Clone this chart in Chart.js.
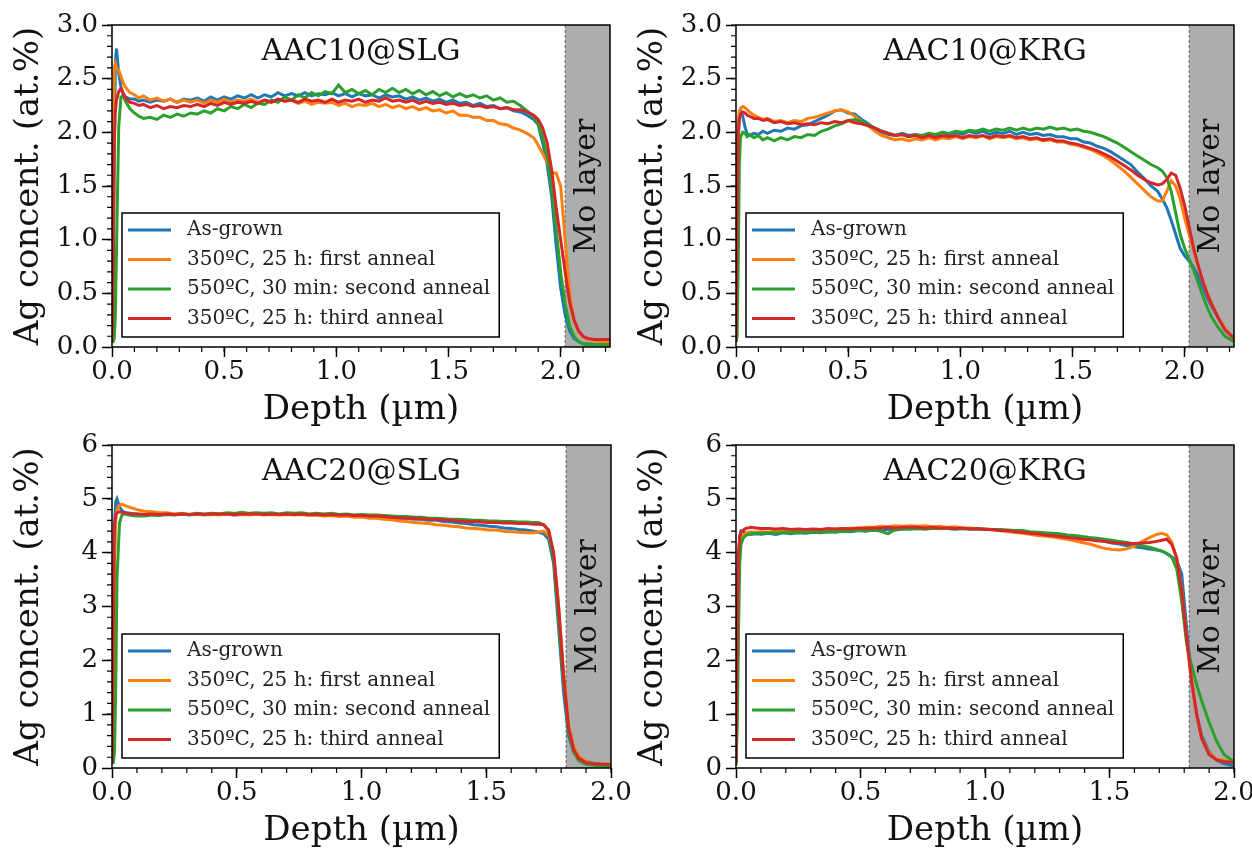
<!DOCTYPE html>
<html>
<head>
<meta charset="utf-8">
<title>Ag depth profiles</title>
<script src="https://cdn.jsdelivr.net/npm/chart.js@4.4.0/dist/chart.umd.min.js"></script>
<style>
  html, body { margin: 0; padding: 0; background: #fff; overflow: hidden; }
  body { width: 1252px; height: 853px; position: relative; }
  canvas { position: absolute; }
</style>
</head>
<body>
<script>
const FONT = '"DejaVu Serif", "Liberation Serif", serif';

// --- SERIES ---
const seriesLabels = ['As-grown', '350ºC, 25 h: first anneal', '550ºC, 30 min: second anneal', '350ºC, 25 h: third anneal'];
const seriesColors = ['#1f77b4', '#ff7f0e', '#2ca02c', '#d62728'];

// --- TICKS ---
const xTicks = [0, 0.5, 1.0, 1.5, 2.0];
const yTicks10 = [0, 0.5, 1.0, 1.5, 2.0, 2.5, 3.0];
const yTicks20 = [0, 1, 2, 3, 4, 5, 6];

// --- DEPTH GRIDS (µm) ---
const depth10 = [
  0, 0.005, 0.01, 0.015, 0.02, 0.03, 0.04, 0.05, 0.06, 0.08,
  0.10, 0.12, 0.14, 0.17, 0.20, 0.23, 0.26, 0.29, 0.32, 0.35,
  0.38, 0.41, 0.44, 0.47, 0.50, 0.53, 0.56, 0.59, 0.62, 0.65,
  0.68, 0.71, 0.74, 0.77, 0.80, 0.83, 0.86, 0.89, 0.92, 0.95,
  0.98, 1.01, 1.04, 1.07, 1.10, 1.13, 1.16, 1.19, 1.22, 1.25,
  1.28, 1.31, 1.34, 1.37, 1.40, 1.43, 1.46, 1.49, 1.52, 1.55,
  1.58, 1.61, 1.64, 1.67, 1.70, 1.73, 1.76, 1.79, 1.82, 1.85,
  1.88, 1.90, 1.92, 1.94, 1.96, 1.98, 2.00, 2.02, 2.04, 2.06,
  2.08, 2.10, 2.12, 2.15, 2.18, 2.22
];
const depth20 = [
  0, 0.005, 0.01, 0.015, 0.02, 0.03, 0.04, 0.05, 0.06, 0.08,
  0.10, 0.13, 0.16, 0.19, 0.22, 0.25, 0.28, 0.31, 0.34, 0.37,
  0.40, 0.43, 0.46, 0.49, 0.52, 0.55, 0.58, 0.61, 0.64, 0.67,
  0.70, 0.73, 0.76, 0.79, 0.82, 0.85, 0.88, 0.91, 0.94, 0.97,
  1.00, 1.03, 1.06, 1.09, 1.12, 1.15, 1.18, 1.21, 1.24, 1.27,
  1.30, 1.33, 1.36, 1.39, 1.42, 1.45, 1.48, 1.51, 1.54, 1.57,
  1.60, 1.63, 1.66, 1.69, 1.71, 1.73, 1.75, 1.77, 1.79, 1.81,
  1.83, 1.85, 1.87, 1.90, 1.93, 1.96, 2.00
];

// --- AAC10@SLG (at.%) ---
const slg10AsGrown = [
  0.05, 0.30, 1.80, 2.65, 2.78, 2.55, 2.42, 2.36, 2.33, 2.31,
  2.31, 2.29, 2.30, 2.28, 2.30, 2.29, 2.31, 2.28, 2.31, 2.30,
  2.32, 2.29, 2.33, 2.30, 2.33, 2.31, 2.34, 2.32, 2.35, 2.32,
  2.35, 2.33, 2.37, 2.34, 2.36, 2.34, 2.37, 2.34, 2.36, 2.35,
  2.37, 2.34, 2.36, 2.33, 2.36, 2.34, 2.35, 2.32, 2.35, 2.33,
  2.34, 2.31, 2.33, 2.30, 2.32, 2.29, 2.31, 2.28, 2.30, 2.27,
  2.28, 2.25, 2.27, 2.24, 2.25, 2.22, 2.23, 2.20, 2.19, 2.16,
  2.12, 2.07, 1.90, 1.70, 1.40, 0.95, 0.55, 0.30, 0.15, 0.08,
  0.05, 0.03, 0.03, 0.02, 0.02, 0.02
];
const slg10First = [
  0.05, 1.50, 2.60, 2.64, 2.60, 2.58, 2.52, 2.46, 2.42, 2.37,
  2.35, 2.32, 2.34, 2.30, 2.32, 2.29, 2.31, 2.28, 2.30, 2.28,
  2.30, 2.27, 2.30, 2.28, 2.31, 2.28, 2.30, 2.29, 2.31, 2.28,
  2.30, 2.28, 2.31, 2.29, 2.30, 2.27, 2.29, 2.26, 2.28, 2.27,
  2.28, 2.25, 2.27, 2.24, 2.26, 2.25, 2.27, 2.24, 2.26, 2.23,
  2.25, 2.22, 2.24, 2.21, 2.23, 2.20, 2.21, 2.18, 2.20, 2.16,
  2.16, 2.14, 2.14, 2.11, 2.11, 2.08, 2.07, 2.04, 2.02, 1.99,
  1.95, 1.88, 1.80, 1.72, 1.62, 1.62, 1.50, 1.00, 0.50, 0.25,
  0.14, 0.09, 0.07, 0.06, 0.05, 0.05
];
const slg10Second = [
  0.05, 0.05, 0.08, 0.30, 0.90, 2.05, 2.33, 2.34, 2.29, 2.22,
  2.18, 2.15, 2.13, 2.14, 2.12, 2.16, 2.14, 2.17, 2.15, 2.18,
  2.17, 2.20, 2.18, 2.22, 2.20, 2.24, 2.22, 2.26, 2.23, 2.27,
  2.26, 2.30, 2.28, 2.33, 2.30, 2.35, 2.32, 2.37, 2.34, 2.38,
  2.36, 2.44, 2.37, 2.40, 2.36, 2.39, 2.35, 2.40, 2.37, 2.41,
  2.37, 2.40, 2.36, 2.39, 2.35, 2.38, 2.34, 2.37, 2.33, 2.36,
  2.33, 2.35, 2.32, 2.34, 2.30, 2.32, 2.28, 2.29, 2.25, 2.20,
  2.15, 2.08, 1.95, 1.78, 1.50, 1.10, 0.70, 0.40, 0.20, 0.10,
  0.05, 0.03, 0.02, 0.02, 0.02, 0.02
];
const slg10Third = [
  0.05, 0.80, 1.90, 2.20, 2.30, 2.38, 2.41, 2.36, 2.32, 2.28,
  2.27, 2.25, 2.26, 2.23, 2.25, 2.22, 2.24, 2.23, 2.25, 2.24,
  2.26, 2.24, 2.27, 2.25, 2.28, 2.26, 2.28, 2.27, 2.29, 2.27,
  2.30, 2.28, 2.31, 2.29, 2.30, 2.28, 2.31, 2.29, 2.30, 2.28,
  2.31, 2.28, 2.30, 2.29, 2.31, 2.28, 2.30, 2.29, 2.32, 2.29,
  2.30, 2.28, 2.30, 2.27, 2.29, 2.27, 2.28, 2.26, 2.27, 2.25,
  2.26, 2.24, 2.25, 2.23, 2.24, 2.22, 2.23, 2.21, 2.21, 2.19,
  2.16, 2.12, 2.04, 1.90, 1.65, 1.30, 1.00, 0.70, 0.42, 0.25,
  0.15, 0.10, 0.08, 0.07, 0.07, 0.07
];

// --- AAC10@KRG (at.%) ---
const krg10AsGrown = [
  0.05, 1.00, 1.90, 2.15, 2.20, 2.15, 2.05, 1.98, 1.97, 1.99,
  1.98, 2.01, 1.99, 2.02, 2.01, 2.04, 2.03, 2.06, 2.07, 2.10,
  2.13, 2.16, 2.20, 2.21, 2.18, 2.17, 2.12, 2.08, 2.03, 2.00,
  1.98, 1.97, 1.99, 1.97, 1.98, 1.96, 1.99, 1.97, 2.00, 1.98,
  2.00, 1.98, 2.01, 1.99, 2.01, 1.98, 2.00, 1.99, 2.01, 1.98,
  2.00, 1.98, 1.99, 1.97, 1.98, 1.96, 1.96, 1.94, 1.94, 1.91,
  1.90, 1.87, 1.85, 1.82, 1.78, 1.74, 1.70, 1.63, 1.57, 1.50,
  1.45, 1.38, 1.30, 1.18, 1.05, 0.92, 0.85, 0.80, 0.74, 0.66,
  0.56, 0.46, 0.38, 0.27, 0.16, 0.08
];
const krg10First = [
  0.05, 1.50, 2.10, 2.20, 2.22, 2.24, 2.23, 2.21, 2.19, 2.16,
  2.14, 2.12, 2.13, 2.10, 2.11, 2.09, 2.11, 2.10, 2.13, 2.14,
  2.16, 2.18, 2.20, 2.21, 2.19, 2.15, 2.10, 2.06, 2.01, 1.97,
  1.95, 1.93, 1.94, 1.92, 1.94, 1.93, 1.95, 1.93, 1.95, 1.94,
  1.96, 1.94, 1.96, 1.95, 1.97, 1.94, 1.96, 1.95, 1.96, 1.94,
  1.95, 1.93, 1.94, 1.92, 1.93, 1.91, 1.91, 1.89, 1.88, 1.86,
  1.84, 1.81, 1.78, 1.74, 1.69, 1.64, 1.58, 1.52, 1.46, 1.40,
  1.36, 1.36, 1.45, 1.55, 1.50, 1.38, 1.20, 1.05, 0.90, 0.76,
  0.62, 0.50, 0.40, 0.28, 0.17, 0.08
];
const krg10Second = [
  0.05, 0.10, 0.80, 1.70, 1.95, 2.00, 1.99, 1.96, 1.98, 1.95,
  1.97, 1.93, 1.95, 1.92, 1.95, 1.93, 1.96, 1.95, 1.98, 1.97,
  2.01, 2.03, 2.06, 2.08, 2.11, 2.12, 2.10, 2.07, 2.04, 2.01,
  1.99, 1.97, 1.98, 1.96, 1.98, 1.97, 1.99, 1.98, 2.00, 1.99,
  2.01, 2.00, 2.02, 2.01, 2.03, 2.01, 2.03, 2.02, 2.04, 2.02,
  2.04, 2.02, 2.04, 2.03, 2.05, 2.03, 2.04, 2.02, 2.03, 2.01,
  2.00, 1.98, 1.96, 1.93, 1.90, 1.86, 1.82, 1.78, 1.74, 1.70,
  1.67, 1.64, 1.58, 1.45, 1.25, 1.05, 0.92, 0.82, 0.72, 0.60,
  0.48, 0.37, 0.28, 0.18, 0.10, 0.05
];
const krg10Third = [
  0.05, 1.20, 2.00, 2.12, 2.17, 2.19, 2.18, 2.16, 2.15, 2.13,
  2.13, 2.11, 2.12, 2.09, 2.10, 2.08, 2.09, 2.07, 2.08, 2.07,
  2.09, 2.08, 2.10, 2.09, 2.11, 2.09, 2.08, 2.06, 2.04, 2.01,
  1.99, 1.97, 1.98, 1.96, 1.97, 1.95, 1.97, 1.95, 1.97, 1.96,
  1.97, 1.95, 1.97, 1.96, 1.97, 1.95, 1.97, 1.96, 1.97, 1.95,
  1.96, 1.94, 1.95, 1.93, 1.94, 1.92, 1.92, 1.90, 1.89, 1.87,
  1.85, 1.83, 1.80, 1.77, 1.73, 1.69, 1.65, 1.60, 1.56, 1.53,
  1.51, 1.52, 1.56, 1.62, 1.60, 1.48, 1.32, 1.12, 0.92, 0.76,
  0.62, 0.50, 0.40, 0.27, 0.16, 0.08
];

// --- AAC20@SLG (at.%) ---
const slg20AsGrown = [
  0.10, 2.00, 4.50, 4.95, 5.00, 4.85, 4.78, 4.75, 4.74, 4.73, 4.72,
  4.71, 4.72, 4.70, 4.72, 4.71, 4.72, 4.70, 4.72, 4.71, 4.72,
  4.71, 4.72, 4.70, 4.72, 4.71, 4.73, 4.71, 4.72, 4.71, 4.72,
  4.71, 4.72, 4.70, 4.71, 4.70, 4.71, 4.69, 4.70, 4.69, 4.70,
  4.68, 4.68, 4.66, 4.66, 4.64, 4.64, 4.62, 4.62, 4.60, 4.60,
  4.58, 4.57, 4.55, 4.54, 4.52, 4.51, 4.49, 4.48, 4.46, 4.45, 4.43, 4.42, 4.40,
  4.38, 4.35, 4.25, 3.80, 2.60, 1.40, 0.60, 0.30, 0.18, 0.12, 0.09, 0.07, 0.05
];
const slg20First = [
  0.10, 1.00, 3.80, 4.60, 4.80, 4.88, 4.90, 4.88, 4.86, 4.83, 4.80,
  4.77, 4.76, 4.74, 4.74, 4.72, 4.73, 4.71, 4.72, 4.70, 4.71,
  4.70, 4.72, 4.70, 4.71, 4.70, 4.72, 4.70, 4.71, 4.70, 4.71,
  4.70, 4.71, 4.69, 4.70, 4.68, 4.69, 4.67, 4.68, 4.66, 4.66,
  4.64, 4.64, 4.62, 4.61, 4.59, 4.58, 4.56, 4.55, 4.54, 4.52,
  4.51, 4.49, 4.48, 4.46, 4.45, 4.44, 4.42, 4.42, 4.40, 4.39, 4.38, 4.37, 4.37,
  4.38, 4.40, 4.32, 4.00, 3.00, 1.80, 0.80, 0.40, 0.22, 0.12, 0.08, 0.06, 0.05
];
const slg20Second = [
  0.10, 0.10, 0.30, 1.50, 3.50, 4.55, 4.70, 4.72, 4.71, 4.69, 4.68,
  4.68, 4.70, 4.69, 4.71, 4.70, 4.72, 4.71, 4.73, 4.72, 4.73,
  4.72, 4.74, 4.73, 4.75, 4.73, 4.74, 4.73, 4.74, 4.72, 4.74,
  4.73, 4.74, 4.72, 4.73, 4.72, 4.73, 4.71, 4.72, 4.70, 4.71,
  4.70, 4.70, 4.69, 4.68, 4.67, 4.67, 4.66, 4.66, 4.64, 4.64,
  4.63, 4.62, 4.62, 4.61, 4.60, 4.60, 4.59, 4.59, 4.58, 4.58, 4.57, 4.57, 4.56,
  4.56, 4.52, 4.40, 3.90, 2.80, 1.60, 0.70, 0.30, 0.14, 0.07, 0.05, 0.04, 0.03
];
const slg20Third = [
  0.10, 2.50, 4.50, 4.70, 4.74, 4.76, 4.75, 4.74, 4.73, 4.72, 4.72,
  4.71, 4.72, 4.71, 4.72, 4.71, 4.72, 4.71, 4.72, 4.71, 4.72,
  4.72, 4.72, 4.71, 4.72, 4.72, 4.72, 4.71, 4.72, 4.71, 4.72,
  4.71, 4.72, 4.71, 4.71, 4.70, 4.71, 4.70, 4.70, 4.69, 4.69,
  4.68, 4.68, 4.67, 4.66, 4.65, 4.64, 4.64, 4.63, 4.62, 4.62,
  4.61, 4.60, 4.59, 4.58, 4.58, 4.57, 4.56, 4.56, 4.55, 4.55, 4.54, 4.54, 4.53,
  4.53, 4.52, 4.42, 4.00, 3.00, 1.70, 0.75, 0.35, 0.18, 0.10, 0.08, 0.07, 0.07
];

// --- AAC20@KRG (at.%) ---
const krg20AsGrown = [
  0.10, 1.50, 3.80, 4.30, 4.40, 4.38, 4.36, 4.35, 4.34, 4.35, 4.34,
  4.36, 4.34, 4.37, 4.35, 4.37, 4.36, 4.38, 4.37, 4.39, 4.38,
  4.40, 4.39, 4.41, 4.40, 4.42, 4.41, 4.43, 4.42, 4.44, 4.44,
  4.45, 4.44, 4.46, 4.45, 4.45, 4.44, 4.45, 4.44, 4.44, 4.43,
  4.43, 4.42, 4.41, 4.40, 4.39, 4.38, 4.37, 4.35, 4.34, 4.32,
  4.31, 4.29, 4.27, 4.25, 4.23, 4.21, 4.18, 4.16, 4.13, 4.11, 4.09, 4.07, 4.05,
  4.03, 3.98, 3.92, 3.85, 3.60, 2.60, 1.60, 1.00, 0.60, 0.30, 0.15, 0.08, 0.04
];
const krg20First = [
  0.10, 1.20, 3.50, 4.20, 4.30, 4.33, 4.36, 4.38, 4.39, 4.38, 4.39,
  4.38, 4.40, 4.39, 4.41, 4.40, 4.42, 4.41, 4.43, 4.42, 4.44,
  4.44, 4.46, 4.45, 4.47, 4.47, 4.49, 4.48, 4.50, 4.49, 4.50,
  4.49, 4.50, 4.48, 4.49, 4.47, 4.48, 4.46, 4.46, 4.44, 4.44,
  4.42, 4.41, 4.39, 4.38, 4.36, 4.34, 4.32, 4.31, 4.29, 4.27,
  4.25, 4.22, 4.19, 4.16, 4.12, 4.08, 4.06, 4.05, 4.07, 4.12, 4.20, 4.28, 4.34,
  4.36, 4.33, 4.20, 3.90, 3.30, 2.40, 1.60, 1.00, 0.55, 0.28, 0.17, 0.14, 0.12
];
const krg20Second = [
  0.05, 0.80, 2.50, 3.80, 4.15, 4.28, 4.32, 4.34, 4.35, 4.36, 4.36,
  4.37, 4.36, 4.38, 4.37, 4.38, 4.37, 4.39, 4.38, 4.39, 4.39,
  4.40, 4.40, 4.41, 4.41, 4.42, 4.40, 4.35, 4.43, 4.44, 4.44,
  4.45, 4.44, 4.45, 4.45, 4.45, 4.44, 4.45, 4.44, 4.44, 4.44,
  4.43, 4.43, 4.42, 4.41, 4.41, 4.39, 4.38, 4.37, 4.36, 4.35,
  4.33, 4.32, 4.30, 4.28, 4.27, 4.25, 4.23, 4.21, 4.19, 4.16, 4.13, 4.10, 4.06,
  4.03, 3.99, 3.92, 3.70, 3.10, 2.30, 1.90, 1.55, 1.25, 0.85, 0.50, 0.25, 0.12
];
const krg20Third = [
  0.10, 2.50, 4.00, 4.30, 4.38, 4.42, 4.45, 4.46, 4.47, 4.46, 4.45,
  4.45, 4.44, 4.45, 4.43, 4.44, 4.43, 4.44, 4.43, 4.45, 4.44,
  4.45, 4.44, 4.46, 4.45, 4.46, 4.46, 4.47, 4.46, 4.47, 4.47,
  4.47, 4.46, 4.47, 4.46, 4.46, 4.45, 4.46, 4.44, 4.45, 4.43,
  4.43, 4.41, 4.41, 4.39, 4.38, 4.36, 4.35, 4.33, 4.32, 4.30,
  4.28, 4.27, 4.25, 4.24, 4.22, 4.21, 4.19, 4.18, 4.17, 4.17, 4.18, 4.19, 4.21,
  4.23, 4.25, 4.15, 3.90, 3.30, 2.40, 1.60, 1.00, 0.55, 0.25, 0.15, 0.12, 0.10
];

// --- PANEL LAYOUT ---
// rect = plot area in page pixels [left, top, right, bottom]
const panels = [
  { title: 'AAC10@SLG', depth: depth10, values: [slg10AsGrown, slg10First, slg10Second, slg10Third],
    xMax: 2.22, yMax: 3, yTicks: yTicks10, yMinor: 0.1, yDigits: 1, moStart: 2.02, rect: [112, 25, 610, 347] },
  { title: 'AAC10@KRG', depth: depth10, values: [krg10AsGrown, krg10First, krg10Second, krg10Third],
    xMax: 2.22, yMax: 3, yTicks: yTicks10, yMinor: 0.1, yDigits: 1, moStart: 2.02, rect: [736, 25, 1234, 347] },
  { title: 'AAC20@SLG', depth: depth20, values: [slg20AsGrown, slg20First, slg20Second, slg20Third],
    xMax: 2.0, yMax: 6, yTicks: yTicks20, yMinor: 0.2, yDigits: 0, moStart: 1.82, rect: [112, 445, 611, 768] },
  { title: 'AAC20@KRG', depth: depth20, values: [krg20AsGrown, krg20First, krg20Second, krg20Third],
    xMax: 2.0, yMax: 6, yTicks: yTicks20, yMinor: 0.2, yDigits: 0, moStart: 1.82, rect: [736, 445, 1234, 768] }
];

const Y_AXIS_W = 111, X_AXIS_H = 80, PAD_TOP = 25, PAD_RIGHT = 26;

// Mo back-contact shading, sample name, boxed legend, frame and minor ticks
const decor = {
  id: 'decor',
  beforeDatasetsDraw(chart, args, o) {
    const { ctx, chartArea: a, scales: { x } } = chart;
    const x0 = x.getPixelForValue(o.moStart);
    ctx.save();
    ctx.fillStyle = '#adadad';
    ctx.fillRect(x0, a.top, a.right - x0, a.bottom - a.top);
    ctx.strokeStyle = '#444';
    ctx.lineWidth = 0.8;
    ctx.setLineDash([3, 2]);
    ctx.beginPath();
    ctx.moveTo(x0, a.top);
    ctx.lineTo(x0, a.bottom);
    ctx.stroke();
    ctx.restore();
  },
  afterDatasetsDraw(chart, args, o) {
    const { ctx, chartArea: a, scales: { x } } = chart;
    const x0 = x.getPixelForValue(o.moStart);

    ctx.save();
    ctx.translate((x0 + a.right) / 2, (a.top + a.bottom) / 2);
    ctx.rotate(-Math.PI / 2);
    ctx.fillStyle = '#111';
    ctx.font = `30px ${FONT}`;
    ctx.textAlign = 'center';
    ctx.textBaseline = 'middle';
    ctx.fillText('Mo layer', 0, 0);
    ctx.restore();

    ctx.save();
    ctx.fillStyle = '#111';
    ctx.font = `30px ${FONT}`;
    ctx.textAlign = 'center';
    ctx.textBaseline = 'middle';
    ctx.fillText(o.title, (a.left + a.right) / 2, a.top + 27);

    // legend box in the lower left corner
    ctx.font = `20px ${FONT}`;
    const sets = chart.data.datasets;
    const textW = Math.max(...sets.map(d => ctx.measureText(d.label).width));
    const bw = 65 + textW + 9, bh = 124;
    const bx = a.left + 10, by = a.bottom - 10 - bh;
    ctx.fillStyle = '#fff';
    ctx.fillRect(bx, by, bw, bh);
    ctx.strokeStyle = '#000';
    ctx.lineWidth = 1.5;
    ctx.strokeRect(bx, by, bw, bh);
    ctx.textAlign = 'left';
    sets.forEach((d, i) => {
      const cy = by + 17 + i * 29.5;
      ctx.strokeStyle = d.borderColor;
      ctx.lineWidth = 3;
      ctx.beginPath();
      ctx.moveTo(bx + 6, cy);
      ctx.lineTo(bx + 49, cy);
      ctx.stroke();
      ctx.fillStyle = '#222';
      ctx.fillText(d.label, bx + 65, cy);
    });
    ctx.restore();
  },
  afterDraw(chart, args, o) {
    const { ctx, chartArea: a, scales: { x, y } } = chart;
    ctx.save();
    ctx.strokeStyle = '#000';
    ctx.lineWidth = 1.5;
    ctx.strokeRect(a.left, a.top, a.right - a.left, a.bottom - a.top);
    ctx.lineWidth = 1.2;
    ctx.beginPath();
    for (let k = 1; k * 0.1 <= x.max + 1e-9; k++) {
      const px = x.getPixelForValue(k * 0.1);
      ctx.moveTo(px, a.bottom);
      ctx.lineTo(px, a.bottom + 5);
    }
    for (let k = 1; k * o.yMinor <= y.max + 1e-9; k++) {
      const py = y.getPixelForValue(k * o.yMinor);
      ctx.moveTo(a.left, py);
      ctx.lineTo(a.left - 5, py);
    }
    ctx.stroke();
    ctx.restore();
  }
};

panels.forEach(p => {
  const [L, T, R, B] = p.rect;
  const canvas = document.createElement('canvas');
  canvas.width = (R - L) + Y_AXIS_W + PAD_RIGHT;
  canvas.height = (B - T) + PAD_TOP + X_AXIS_H;
  canvas.style.left = (L - Y_AXIS_W) + 'px';
  canvas.style.top = (T - PAD_TOP) + 'px';
  document.body.appendChild(canvas);

  const datasets = p.values.map((vals, i) => ({
    label: seriesLabels[i],
    data: p.depth.map((d, j) => ({ x: d, y: vals[j] })),
    borderColor: seriesColors[i],
    borderWidth: 3,
    pointRadius: 0,
    tension: 0,
    order: p.values.length - i
  }));

  new Chart(canvas, {
    type: 'line',
    data: { datasets },
    plugins: [decor],
    options: {
      responsive: false,
      animation: false,
      devicePixelRatio: 1,
      layout: { padding: { top: PAD_TOP, right: PAD_RIGHT, left: 0, bottom: 0 } },
      plugins: {
        legend: { display: false },
        tooltip: { enabled: false },
        decor: { title: p.title, moStart: p.moStart, yMinor: p.yMinor }
      },
      scales: {
        x: {
          type: 'linear', min: 0, max: p.xMax,
          afterBuildTicks: s => { s.ticks = xTicks.map(v => ({ value: v })); },
          afterFit: s => { s.height = X_AXIS_H; },
          grid: { drawOnChartArea: false, tickLength: 10, tickWidth: 1.5, tickColor: '#000' },
          border: { display: false },
          ticks: { font: { family: FONT, size: 26 }, color: '#111', padding: 0, maxRotation: 0, autoSkip: false,
                   callback: v => v.toFixed(1) },
          title: { display: true, text: 'Depth (µm)', color: '#111',
                   font: { family: FONT, size: 34, lineHeight: 1 }, padding: 0 }
        },
        y: {
          type: 'linear', min: 0, max: p.yMax,
          afterBuildTicks: s => { s.ticks = p.yTicks.map(v => ({ value: v })); },
          afterFit: s => { s.width = Y_AXIS_W; },
          grid: { drawOnChartArea: false, tickLength: 10, tickWidth: 1.5, tickColor: '#000' },
          border: { display: false },
          ticks: { font: { family: FONT, size: 26 }, color: '#111', padding: 4, autoSkip: false,
                   callback: v => v.toFixed(p.yDigits) },
          title: { display: true, text: 'Ag concent. (at.%)', color: '#111',
                   font: { family: FONT, size: 34, lineHeight: 1 }, padding: { top: 11, bottom: 0 } }
        }
      }
    }
  });
});
</script>
</body>
</html>
